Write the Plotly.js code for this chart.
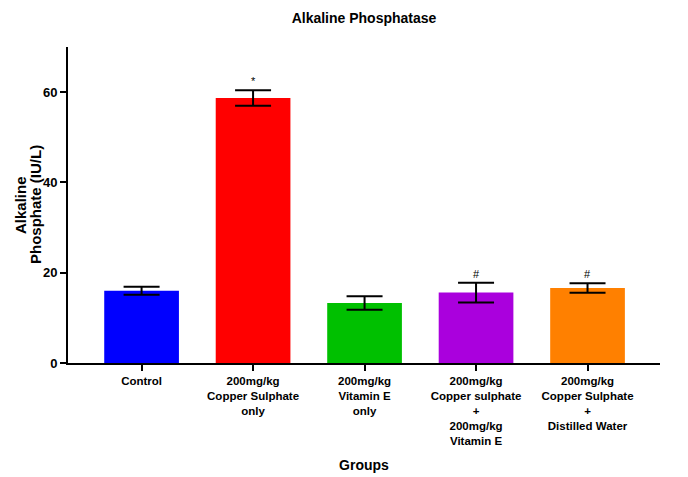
<!DOCTYPE html>
<html>
<head>
<meta charset="utf-8">
<script src="https://cdn.plot.ly/plotly-3.0.1.min.js"></script>
<style>html,body{margin:0;padding:0;background:#fff;}#chart{width:688px;height:477px;}</style>
</head>
<body>
<div id="chart"></div>
<script>
var categories = [
  "Control",
  "200mg/kg<br>Copper Sulphate<br>only",
  "200mg/kg<br>Vitamin E<br>only",
  "200mg/kg<br>Copper sulphate<br>+<br>200mg/kg<br>Vitamin E",
  "200mg/kg<br>Copper Sulphate<br>+<br>Distilled Water"
];
var meanValues = [16.0, 58.7, 13.3, 15.6, 16.6];
var errorValues = [0.9, 1.7, 1.5, 2.2, 1.05];
var markers = ["", "*", "", "#", "#"];
var barColors = ["#0000FF", "#FF0000", "#00C000", "#AA00DD", "#FF8000"];
var yTitleLines = ["Alkaline", "Phosphate (IU/L)"];

var FONT = "Arial, 'Liberation Sans', sans-serif";

var trace = {
  type: "bar",
  x: categories,
  y: meanValues,
  width: 0.67,
  marker: {color: barColors, line: {width: 0}},
  error_y: {type: "data", array: errorValues, visible: true, color: "#000", thickness: 2, width: 18},
  hoverinfo: "none"
};

var annotations = [];
for (var i = 0; i < categories.length; i++) {
  if (markers[i]) {
    annotations.push({
      x: categories[i], y: meanValues[i] + errorValues[i],
      xref: "x", yref: "y", text: markers[i], showarrow: false,
      yanchor: "bottom", yshift: 1,
      font: {family: FONT, size: 11, color: "#000"}
    });
  }
}
// two-line y-axis title with tight line spacing
var plotLeft = 68, plotWidth = 592;
var titleCentersPx = [20, 35];
for (var j = 0; j < yTitleLines.length; j++) {
  annotations.push({
    x: (titleCentersPx[j] - plotLeft) / plotWidth, y: 0.5,
    xref: "paper", yref: "paper", text: yTitleLines[j], showarrow: false,
    textangle: -90, xanchor: "center", yanchor: "middle",
    font: {family: FONT, size: 15, weight: "bold", color: "#000"}
  });
}

var layout = {
  width: 688, height: 477,
  margin: {l: 68, r: 28, t: 47, b: 114},
  paper_bgcolor: "#fff", plot_bgcolor: "#fff",
  showlegend: false,
  title: {text: "Alkaline Phosphatase", x: 0.5, xref: "paper", xanchor: "center", y: 1 - 18/477, yanchor: "middle",
          font: {family: FONT, size: 14, weight: "bold", color: "#000"}},
  xaxis: {
    range: [-0.66, 4.65], type: "category",
    showline: true, linecolor: "#000", linewidth: 2,
    ticks: "outside", ticklen: 6, tickwidth: 2, tickcolor: "#000",
    showgrid: false, zeroline: false,
    tickfont: {family: FONT, size: 11.5, weight: "bold", color: "#000"},
    title: {text: "Groups", standoff: 15, font: {family: FONT, size: 14, weight: "bold", color: "#000"}},
    fixedrange: true
  },
  yaxis: {
    range: [0, 70], tickvals: [0, 20, 40, 60],
    showline: true, linecolor: "#000", linewidth: 2,
    ticks: "outside", ticklen: 6, tickwidth: 2, tickcolor: "#000",
    showgrid: false, zeroline: false,
    tickfont: {family: FONT, size: 13, weight: "bold", color: "#000"},
    fixedrange: true
  },
  annotations: annotations,
  bargap: 0.33
};

Plotly.newPlot("chart", [trace], layout, {displayModeBar: false, staticPlot: true});
</script>
</body>
</html>
